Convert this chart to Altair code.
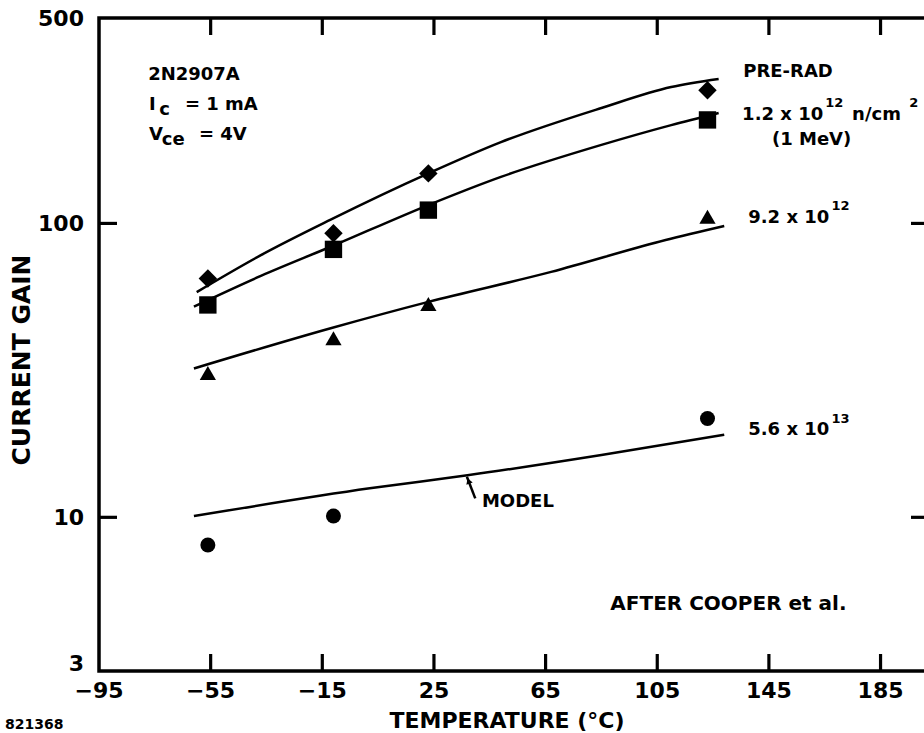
import altair as alt
import pandas as pd

FONT = "DejaVu Sans"

# ---- axis ticks ----
x_ticks = [-95, -55, -15, 25, 65, 105, 145, 185]
x_inner_ticks = [-55, -15, 25, 65, 105, 145, 185]
y_ticks = [3, 10, 100, 500]
y_inner_ticks = [10, 100]
x_title = "TEMPERATURE (°C)"
y_title = "CURRENT GAIN"

# ---- measured points (temperature in C, current gain) ----
series = ["PRE-RAD", "1.2e12", "9.2e12", "5.6e13"]
marker_temps = [-56, -11, 23, 123]
gain_prerad = [65.0, 92.6, 148.0, 284.0]
gain_12e12 = [52.8, 81.6, 111.0, 225.0]
gain_92e12 = [31.0, 40.7, 53.2, 105.4]
gain_56e13 = [8.05, 10.1, None, 21.7]

# ---- model curves ----
curve_prerad_t = [-60, -37, -12, 23, 49, 85, 110, 127]
curve_prerad_g = [58.4, 78.0, 103.0, 148.0, 189.0, 247.0, 291.0, 310.0]
curve_12e12_t = [-61, -37, -12, 23, 49, 85, 110, 127]
curve_12e12_g = [52.1, 66.3, 83.3, 115.5, 144.0, 185.0, 216.0, 237.5]
curve_92e12_t = [-61, -12, 23, 67, 108, 129]
curve_92e12_g = [32.1, 44.0, 54.1, 68.4, 87.8, 98.0]
curve_56e13_t = [-61, 2, 37, 85, 129]
curve_56e13_g = [10.1, 12.55, 13.9, 16.3, 19.1]

# ---- annotations (label, temperature, gain at baseline) ----
notes_main = [
    ("2N2907A", -77.4, 307.6),
    ("I", -77.1, 243.2),
    ("c", -73.4, 233.9),
    ("= 1 mA", -64.2, 243.2),
    ("V", -77.1, 192.2),
    ("ce", -72.5, 184.9),
    ("= 4V", -59.2, 192.2),
    ("PRE-RAD", 135.8, 315.0),
    ("1.2 x 10", 135.4, 224.9),
    ("n/cm", 174.8, 224.9),
    ("(1 MeV)", 146.1, 184.9),
    ("9.2 x 10", 137.6, 100.4),
    ("5.6 x 10", 137.6, 19.1),
    ("MODEL", 42.2, 10.87),
]
notes_sup = [
    ("12", 165.2, 249.0),
    ("2", 195.3, 249.0),
    ("12", 167.4, 111.1),
    ("13", 167.4, 20.9),
]
notes_big = [("AFTER COOPER et al.", 88.2, 4.84)]
pointer = [(36.8, 13.75, 39.8, 11.6)]
pointer_head = [(37.4, 13.3)]
footnote = ["821368"]

# ---- tables ----
pts = []
for name, vals in zip(series, [gain_prerad, gain_12e12, gain_92e12, gain_56e13]):
    for t, g in zip(marker_temps, vals):
        if g is not None:
            pts.append({"series": name, "t": t, "g": g})
df_pts = pd.DataFrame(pts)

lines = []
for name, ts, gs in zip(series,
                        [curve_prerad_t, curve_12e12_t, curve_92e12_t, curve_56e13_t],
                        [curve_prerad_g, curve_12e12_g, curve_92e12_g, curve_56e13_g]):
    for t, g in zip(ts, gs):
        lines.append({"series": name, "t": t, "g": g})
df_lines = pd.DataFrame(lines)

df_main = pd.DataFrame(notes_main, columns=["label", "t", "g"])
df_sup = pd.DataFrame(notes_sup, columns=["label", "t", "g"])
df_big = pd.DataFrame(notes_big, columns=["label", "t", "g"])
df_ptr = pd.DataFrame(pointer, columns=["t", "g", "t2", "g2"])
df_head = pd.DataFrame(pointer_head, columns=["t", "g"])
df_foot = pd.DataFrame({"label": footnote})
df_xt = pd.DataFrame({"t": x_inner_ticks})
df_yt = pd.DataFrame({"g": y_inner_ticks})
df_xlab = pd.DataFrame({"t": x_ticks, "label": [str(v).replace("-", "\u2212") for v in x_ticks]})
y_low = min(y_ticks)
df_ylab = pd.DataFrame({"g": [v for v in y_ticks if v != y_low],
                        "label": [str(v) for v in y_ticks if v != y_low]})
df_ylab_low = pd.DataFrame({"g": [y_low], "label": [str(y_low)]})
df_xtitle = pd.DataFrame({"label": [x_title]})
df_ytitle = pd.DataFrame({"label": [y_title]})

W, H = 829, 653
XT, YT = 17, 18  # inward tick lengths

xscale = alt.Scale(domain=[-95, 202], nice=False, zero=False)
yscale = alt.Scale(type="log", domain=[3, 500], nice=False)

X = alt.X("t:Q", scale=xscale, axis=None)
Y = alt.Y("g:Q", scale=yscale, axis=None)

curves = alt.Chart(df_lines).mark_line(color="black", strokeWidth=2.5, interpolate="monotone").encode(
    x=X, y=Y, detail="series:N",
)

markers = alt.Chart(df_pts).mark_point(filled=True, opacity=1, color="black", strokeWidth=0).encode(
    x=X, y=Y,
    shape=alt.Shape("series:N", scale=alt.Scale(domain=series,
                    range=["diamond", "square", "triangle-up", "circle"]), legend=None),
    size=alt.Size("series:N", scale=alt.Scale(domain=series, range=[340, 225, 300, 320]), legend=None),
)

def text_layer(df, size):
    return alt.Chart(df).mark_text(font=FONT, fontWeight="bold", fontSize=size, align="left",
                                   baseline="alphabetic", color="black").encode(
        x=X, y=Y, text="label:N",
    )

t_main = text_layer(df_main, 18)
t_sup = text_layer(df_sup, 13)
t_big = text_layer(df_big, 20)

ptr = alt.Chart(df_ptr).mark_rule(color="black", strokeWidth=2.5).encode(
    x=X, y=Y, x2="t2:Q", y2="g2:Q",
)
head = alt.Chart(df_head).mark_point(shape="triangle-up", filled=True, opacity=1, color="black",
                                     size=45, angle=340, strokeWidth=0).encode(x=X, y=Y)

# inward ticks along the frame
tick_style = dict(color="black", strokeWidth=3.2)
xt_bottom = alt.Chart(df_xt).mark_rule(**tick_style).encode(
    x=X, y=alt.value(H), y2=alt.value(H - XT))
xt_top = alt.Chart(df_xt).mark_rule(**tick_style).encode(
    x=X, y=alt.value(0), y2=alt.value(XT))
yt_left = alt.Chart(df_yt).mark_rule(**tick_style).encode(
    y=Y, x=alt.value(0), x2=alt.value(YT))
yt_right = alt.Chart(df_yt).mark_rule(**tick_style).encode(
    y=Y, x=alt.value(W), x2=alt.value(W - XT))

# tick labels and axis titles
lab_style = dict(font=FONT, fontWeight="bold", fontSize=22, color="black")
x_labels = alt.Chart(df_xlab).mark_text(align="center", baseline="top", **lab_style).encode(
    x=X, y=alt.value(H + 10), text="label:N")
y_labels = alt.Chart(df_ylab).mark_text(align="right", baseline="middle", dy=1, **lab_style).encode(
    y=Y, x=alt.value(-15), text="label:N")
y_label_low = alt.Chart(df_ylab_low).mark_text(align="right", baseline="alphabetic", **lab_style).encode(
    y=Y, x=alt.value(-15), text="label:N")
x_title_t = alt.Chart(df_xtitle).mark_text(align="center", baseline="alphabetic", font=FONT,
                                           fontWeight="bold", fontSize=22, color="black").encode(
    x=alt.value(408), y=alt.value(H + 57), text="label:N")
y_title_t = alt.Chart(df_ytitle).mark_text(align="center", baseline="alphabetic", angle=270, font=FONT,
                                           fontWeight="bold", fontSize=25, color="black").encode(
    x=alt.value(-69), y=alt.value(342), text="label:N")

foot = alt.Chart(df_foot).mark_text(font=FONT, fontWeight="bold", fontSize=14, align="left",
                                    baseline="alphabetic", color="black").encode(
    x=alt.value(-94), y=alt.value(711), text="label:N",
)

chart = alt.layer(curves, markers, t_main, t_sup, t_big, ptr, head,
                  xt_bottom, xt_top, yt_left, yt_right,
                  x_labels, y_labels, y_label_low, x_title_t, y_title_t, foot).properties(
    width=W, height=H,
    autosize=alt.AutoSizeParams(type="none"),
    padding={"left": 99, "top": 18, "right": -4, "bottom": 62},
    background="white",
).configure_view(stroke="black", strokeWidth=3.5)

chart.save("out.html", embed_options={"renderer": "svg", "actions": False})
